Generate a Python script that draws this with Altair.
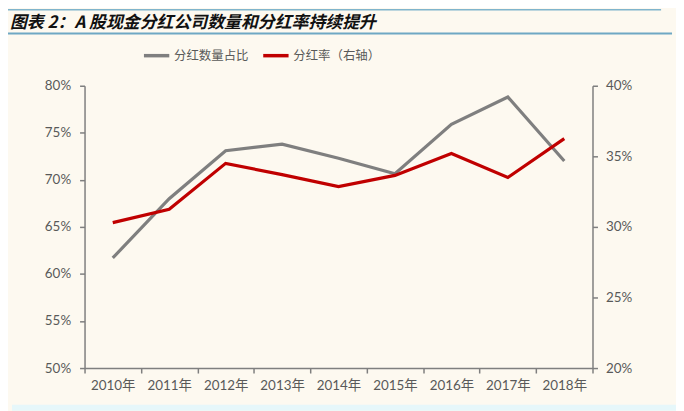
import altair as alt
import pandas as pd

years = ["2010年", "2011年", "2012年", "2013年", "2014年", "2015年", "2016年", "2017年", "2018年"]
share = [61.7, 68.0, 73.1, 73.8, 72.3, 70.65, 75.9, 78.8, 72.0]
payout = [30.3, 31.25, 34.5, 33.7, 32.85, 33.65, 35.2, 33.5, 36.25]
series_names = ["分红数量占比", "分红率（右轴）"]
series_colors = ["#7F7F7F", "#C00000"]
title_text = "图表 2：A 股现金分红公司数量和分红率持续提升"

df_share = pd.DataFrame({"year": years, "value": [v / 100 for v in share], "series": series_names[0]})
df_payout = pd.DataFrame({"year": years, "value": [v / 100 for v in payout], "series": series_names[1]})

FONT = "Lato, Noto Sans CJK SC"
AX = "#7F7F7F"
LAB = "#595959"

color = alt.Color(
    "series:N",
    scale=alt.Scale(domain=series_names, range=series_colors),
    legend=alt.Legend(
        title=None, orient="none", legendX=58, legendY=-45, direction="horizontal",
        symbolType="stroke", symbolStrokeWidth=3.5, symbolSize=650,
        labelFont=FONT, labelFontSize=12.5, labelColor=LAB, columnPadding=6,
        symbolOffset=0, labelOffset=3,
    ),
)

xenc = alt.X(
    "year:N", sort=years, title=None,
    scale=alt.Scale(paddingInner=0, paddingOuter=0),
    axis=alt.Axis(labelAngle=0, tickBand="extent", domainColor=AX, tickColor=AX,
                  labelColor=LAB, labelFont=FONT, labelFontSize=13.5, tickSize=5,
                  labelPadding=6, domainWidth=1.5, tickWidth=1.5),
)

left = alt.Chart(df_share).mark_line(strokeWidth=3.2).encode(
    x=xenc,
    y=alt.Y("value:Q", title=None,
            scale=alt.Scale(domain=[0.5, 0.8], nice=False, zero=False),
            axis=alt.Axis(format=".0%", values=[0.5, 0.55, 0.6, 0.65, 0.7, 0.75, 0.8],
                          orient="left", domainColor=AX, tickColor=AX, labelColor=LAB,
                          labelFont=FONT, labelFontSize=13.5, tickSize=5, grid=False,
                          labelPadding=9, domainWidth=1.5, tickWidth=1.5)),
    color=color,
)

right = alt.Chart(df_payout).mark_line(strokeWidth=3.2).encode(
    x=xenc,
    y=alt.Y("value:Q", title=None,
            scale=alt.Scale(domain=[0.2, 0.4], nice=False, zero=False),
            axis=alt.Axis(format=".0%", values=[0.2, 0.25, 0.3, 0.35, 0.4],
                          orient="right", domainColor=AX, tickColor=AX, labelColor=LAB,
                          labelFont=FONT, labelFontSize=13.5, tickSize=5, grid=False,
                          labelPadding=8, domainWidth=1.5, tickWidth=1.5)),
    color=color,
)

deco = pd.DataFrame({"t": [title_text]})
base = alt.Chart(deco)
title = base.mark_text(align="left", baseline="middle", font="Noto Sans CJK SC",
                       fontSize=17, fontWeight="bold", fontStyle="italic",
                       color="#111111").encode(
    x=alt.value(-75), y=alt.value(-63.5), text="t:N")
line1 = base.mark_rule(color="#7FB4CC", strokeWidth=1.5).encode(
    x=alt.value(-85), x2=alt.value(580), y=alt.value(-76.5))
line2 = base.mark_rule(color="#6FA8C4", strokeWidth=2).encode(
    x=alt.value(-85), x2=alt.value(591), y=alt.value(-52.5))
bottom = base.mark_rule(color="#E6F7FA", strokeWidth=6).encode(
    x=alt.value(-73), x2=alt.value(595), y=alt.value(324))

chart = alt.layer(line1, line2, title, bottom, left, right).resolve_scale(
    y="independent"
).properties(
    width=511, height=284,
    autosize=alt.AutoSizeParams(type="none"),
    padding={"left": 77, "top": 77, "right": 84, "bottom": 42},
    background="#FDF9F0",
).configure_view(stroke=None)

chart.save("out.html", embed_options={"renderer": "svg", "actions": False})
